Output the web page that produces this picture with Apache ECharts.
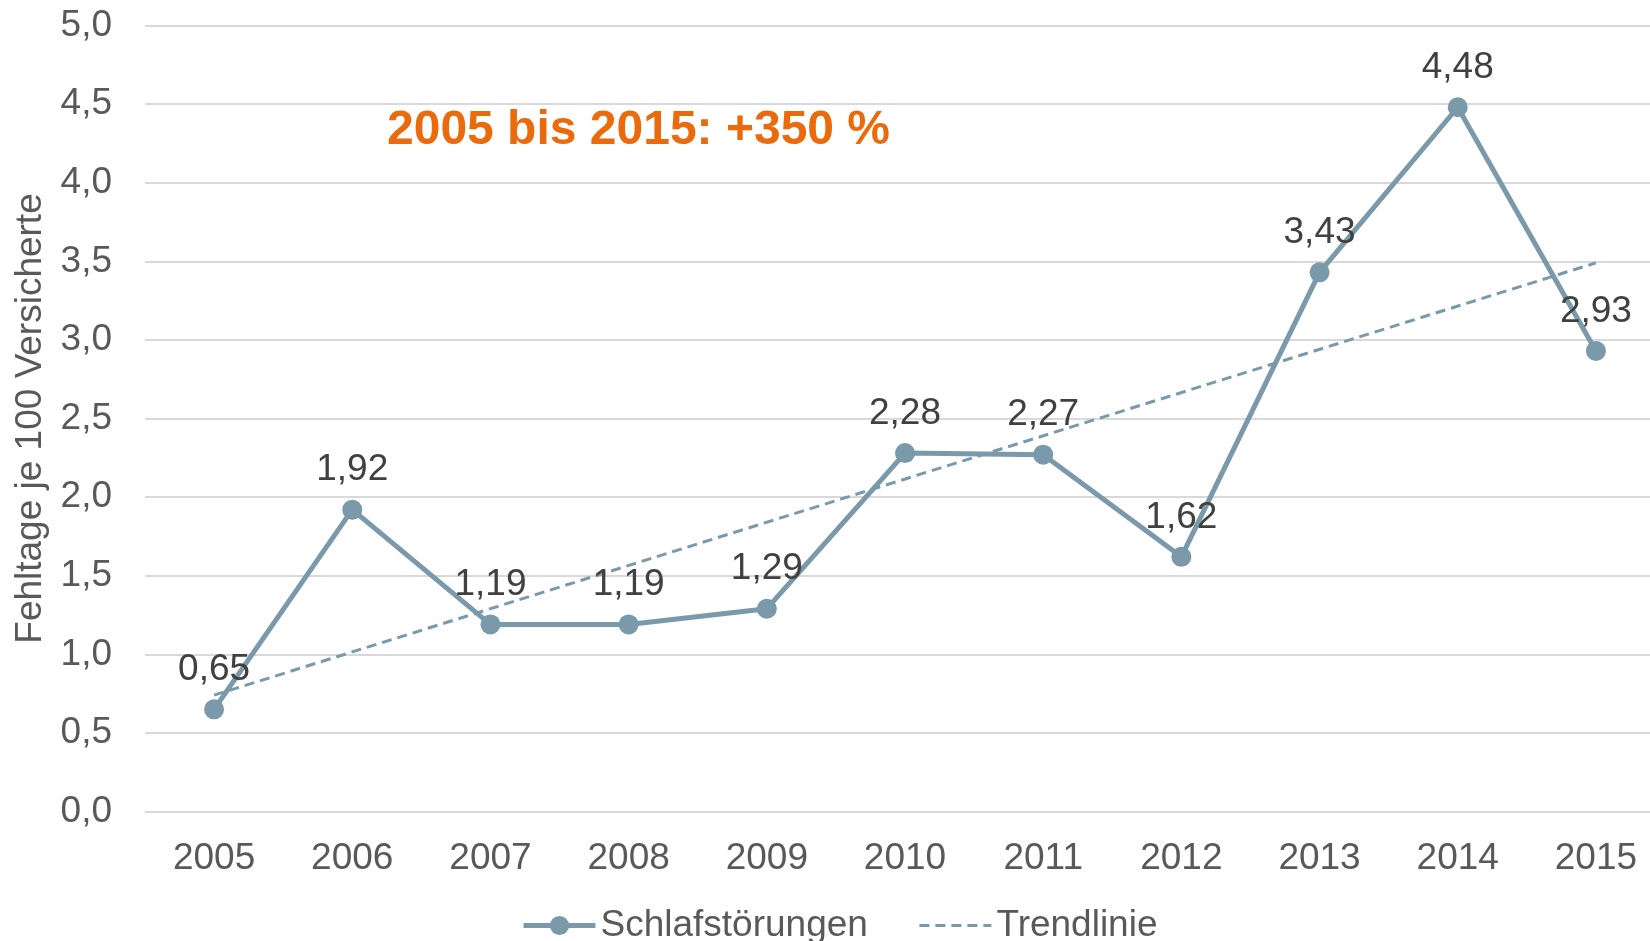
<!DOCTYPE html>
<html>
<head>
<meta charset="utf-8">
<script src="https://cdn.jsdelivr.net/npm/echarts@6/dist/echarts.min.js"></script>
<style>
  html, body { margin: 0; padding: 0; background: #fff; overflow: hidden; }
  /* etwas breiter als das Fenster: die letzte Kategorie ragt über den Rand hinaus */
  #chart { width: 1665px; height: 941px; }
</style>
</head>
<body>
<div id="chart"></div>
<script>
// Daten
var years = ['2005', '2006', '2007', '2008', '2009', '2010', '2011', '2012', '2013', '2014', '2015'];
var schlafValues = [0.65, 1.92, 1.19, 1.19, 1.29, 2.28, 2.27, 1.62, 3.43, 4.48, 2.93];
var trendValues = [0.74, null, null, null, null, null, null, null, null, null, 3.49];
var yTicks = { min: 0, max: 5, interval: 0.5 };

var lineColor = '#7a99aa';
var textColor = '#595959';
var fontFam = '"Liberation Sans", Arial, sans-serif';

function comma(v, digits) {
  return v.toFixed(digits).replace('.', ',');
}

var chart = echarts.init(document.getElementById('chart'), null, { renderer: 'canvas' });

var option = {
  backgroundColor: '#ffffff',
  animation: false,
  textStyle: { fontFamily: fontFam },
  // Überschrift im Diagramm
  title: {
    text: '2005 bis 2015: +350 %',
    left: 382,
    top: 102,
    textStyle: {
      color: '#eb6a0c',
      fontSize: 48,
      fontWeight: 'bold',
      fontFamily: fontFam
    }
  },
  legend: {
    left: 516,
    top: 902,
    itemWidth: 72,
    itemHeight: 24,
    itemGap: 50,
    textStyle: { color: textColor, fontSize: 37, fontFamily: fontFam },
    data: [
      { name: 'Schlafstörungen', lineStyle: { width: 5 } },
      { name: 'Trendlinie', itemStyle: { opacity: 0 }, lineStyle: { width: 3 } }
    ]
  },
  grid: {
    left: 145,
    right: 0,
    top: 25.5,
    bottom: 129.5,
    containLabel: false
  },
  xAxis: {
    type: 'category',
    data: years,
    boundaryGap: true,
    axisLine: { show: false },
    axisTick: { show: false },
    axisLabel: {
      color: textColor,
      fontSize: 37,
      margin: 29,
      fontFamily: fontFam
    },
    splitLine: { show: false }
  },
  yAxis: {
    type: 'value',
    min: yTicks.min,
    max: yTicks.max,
    interval: yTicks.interval,
    name: 'Fehltage je 100 Versicherte',
    nameLocation: 'middle',
    nameRotate: 90,
    nameGap: 93,
    nameTextStyle: { color: textColor, fontSize: 37, fontFamily: fontFam },
    axisLine: { show: false },
    axisTick: { show: false },
    axisLabel: {
      color: textColor,
      fontSize: 37,
      margin: 33,
      fontFamily: fontFam,
      formatter: function (v) { return comma(v, 1); }
    },
    splitLine: { show: true, lineStyle: { color: '#d9d9d9', width: 2 } }
  },
  series: [
    {
      name: 'Schlafstörungen',
      type: 'line',
      data: schlafValues,
      symbol: 'circle',
      symbolSize: 20,
      z: 3,
      itemStyle: { color: lineColor },
      lineStyle: { color: lineColor, width: 5 },
      label: {
        show: true,
        position: 'top',
        distance: 11,
        color: '#404040',
        fontSize: 37,
        fontFamily: fontFam,
        formatter: function (p) { return comma(p.value, 2); }
      }
    },
    {
      name: 'Trendlinie',
      type: 'line',
      data: trendValues,
      connectNulls: true,
      symbol: 'none',
      z: 2,
      itemStyle: { color: lineColor },
      lineStyle: { color: lineColor, width: 3, type: [10, 6] }
    }
  ]
};

chart.setOption(option);
</script>
</body>
</html>
